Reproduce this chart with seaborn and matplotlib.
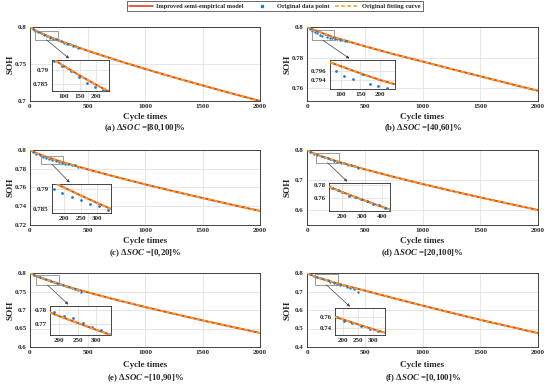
import matplotlib
matplotlib.use("Agg")
import matplotlib.pyplot as plt
import pandas as pd
import seaborn as sns
from matplotlib.lines import Line2D
from matplotlib.patches import Rectangle
from matplotlib.ticker import FuncFormatter

# ---------------- data ----------------
CYCLES = [0, 50, 100, 150, 200, 250, 300, 350, 400, 450, 500, 750, 1000, 1250, 1500, 1750, 2000]

model_a = [0.8000, 0.7952, 0.7915, 0.7881, 0.7849, 0.7819, 0.7790, 0.7761, 0.7734, 0.7707, 0.7680,
           0.7553, 0.7434, 0.7320, 0.7211, 0.7104, 0.7000]
model_b = [0.8000, 0.7985, 0.7970, 0.7955, 0.7941, 0.7929, 0.7918, 0.7907, 0.7896, 0.7885, 0.7874,
           0.7822, 0.7774, 0.7725, 0.7677, 0.7629, 0.7582]
model_c = [0.8000, 0.7970, 0.7946, 0.7924, 0.7904, 0.7884, 0.7865, 0.7847, 0.7829, 0.7812, 0.7794,
           0.7712, 0.7634, 0.7560, 0.7488, 0.7418, 0.7350]
model_d = [0.8000, 0.7902, 0.7828, 0.7760, 0.7697, 0.7636, 0.7577, 0.7520, 0.7465, 0.7411, 0.7357,
           0.7104, 0.6866, 0.6639, 0.6420, 0.6208, 0.6000]
model_e = [0.8000, 0.7921, 0.7861, 0.7806, 0.7755, 0.7706, 0.7658, 0.7612, 0.7567, 0.7523, 0.7480,
           0.7275, 0.7082, 0.6898, 0.6720, 0.6549, 0.6380]
model_f = [0.800, 0.786, 0.774, 0.764, 0.755, 0.746, 0.737, 0.729, 0.721, 0.713, 0.705,
           0.664, 0.624, 0.585, 0.547, 0.511, 0.475]

# original fitting curves coincide with the improved model at the reading precision
fit_a = list(model_a)
fit_b = list(model_b)
fit_c = list(model_c)
fit_d = list(model_d)
fit_e = list(model_e)
fit_f = list(model_f)

n_a = [0, 22, 47, 72, 96, 122, 147, 172, 197, 222, 247, 272, 297, 322, 347, 372, 397, 420]
pts_a = [0.8000, 0.7978, 0.7950, 0.7932, 0.7914, 0.7897, 0.7877, 0.7855, 0.7840, 0.7832, 0.7818,
         0.7808, 0.7790, 0.7774, 0.7765, 0.7746, 0.7738, 0.7720]
n_b = [0, 22, 44, 66, 87, 109, 132, 153, 174, 195, 218, 240, 262, 284, 306, 328, 350]
pts_b = [0.8000, 0.7988, 0.7975, 0.7966, 0.7959, 0.7950, 0.7942, 0.7953, 0.7932, 0.7928, 0.7925,
         0.7924, 0.7921, 0.7918, 0.7916, 0.7911, 0.7905]
n_c = [0, 28, 56, 84, 112, 140, 168, 195, 223, 251, 279, 306, 334, 362, 390, 418]
pts_c = [0.8000, 0.7978, 0.7962, 0.7946, 0.7930, 0.7913, 0.7899, 0.7889, 0.7880, 0.7871, 0.7862,
         0.7856, 0.7847, 0.7845, 0.7838, 0.7818]
n_d = [0, 30, 60, 90, 120, 150, 180, 200, 232, 262, 293, 323, 355, 385, 415, 440]
pts_d = [0.8000, 0.7935, 0.7880, 0.7840, 0.7800, 0.7755, 0.7725, 0.7690, 0.7640, 0.7612, 0.7582,
         0.7560, 0.7510, 0.7488, 0.7452, 0.7415]
n_e = [0, 35, 60, 87, 112, 137, 162, 186, 213, 237, 264, 289, 313, 340, 365, 390, 415, 440]
pts_e = [0.8000, 0.7945, 0.7910, 0.7880, 0.7852, 0.7825, 0.7800, 0.7780, 0.7753, 0.7742, 0.7707,
         0.7680, 0.7658, 0.7630, 0.7598, 0.7560, 0.7535, 0.7490]
n_f = [0, 30, 60, 90, 117, 145, 178, 203, 230, 259, 289, 315, 345, 375, 405, 440]
pts_f = [0.8000, 0.7925, 0.7855, 0.7785, 0.7726, 0.7660, 0.7605, 0.7530, 0.7486, 0.7423, 0.7370,
         0.7332, 0.7270, 0.7215, 0.7160, 0.6985]

panel_letters = ["a", "b", "c", "d", "e", "f"]
soc_ranges = ["[80,100]", "[40,60]", "[0,20]", "[20,100]", "[10,90]", "[0,100]"]
x_ticks = [0, 500, 1000, 1500, 2000]
y_ticks = [[0.7, 0.75, 0.8], [0.76, 0.78, 0.8], [0.72, 0.74, 0.76, 0.78, 0.8],
           [0.6, 0.7, 0.8], [0.6, 0.65, 0.7, 0.75, 0.8], [0.4, 0.5, 0.6, 0.7, 0.8]]
y_lims = [(0.7, 0.8), (0.7515, 0.8), (0.72, 0.8), (0.55, 0.8), (0.6, 0.8), (0.4, 0.8)]
inset_xlims = [(65, 240), (73, 238), (163, 343), (134, 438), (176, 339), (172, 339)]
inset_ylims = [(0.7827, 0.7935), (0.7922, 0.7983), (0.7839, 0.7913),
               (0.740, 0.7838), (0.7622, 0.7825), (0.7265, 0.7765)]
inset_xticks = [[100, 150, 200], [100, 150, 200], [200, 250, 300],
                [200, 300, 400], [200, 250, 300], [200, 250, 300]]
inset_yticks = [[0.785, 0.79], [0.794, 0.796], [0.785, 0.79],
                [0.76, 0.78], [0.77, 0.78], [0.74, 0.76]]
legend_labels = ["Improved semi-empirical model", "Original data point", "Original fitting curve"]

models = [model_a, model_b, model_c, model_d, model_e, model_f]
fits = [fit_a, fit_b, fit_c, fit_d, fit_e, fit_f]
ns = [n_a, n_b, n_c, n_d, n_e, n_f]
pts = [pts_a, pts_b, pts_c, pts_d, pts_e, pts_f]

# ---------------- layout / style ----------------
W, H = 550, 384
MAIN_BOX = [(30, 27, 260, 101), (307, 27, 538, 101),
            (30, 150, 260, 225), (307, 150, 538, 225),
            (30, 273, 260, 347), (307, 273, 538, 347)]
INSET_BOX = [(52, 60, 109, 91), (330, 60, 395, 89),
             (52, 184, 111, 213), (329, 183, 390, 211),
             (50, 306, 111, 335), (335, 308, 385, 335)]
# zoom-indicator rectangles drawn in the main axes (x0, x1, y0, y1), as placed in the reference
ZOOM_RECT = [(43, 243, 0.7827, 0.7947), (41, 236, 0.7912, 0.7978),
             (93, 290, 0.7847, 0.7936), (81, 274, 0.7577, 0.791),
             (52, 255, 0.7673, 0.7933), (67, 268, 0.736, 0.795)]
XLABEL_Y = [117, 117, 241, 241, 365, 365]
TITLE_Y = [128, 128, 253, 253, 378, 378]
YLABEL_X = [10.5, 287.5, 10.5, 287.5, 10.5, 287.5]

RED = "#E2461C"
ORANGE = "#F5A41E"
BLUE = "#1F7AC9"
DASH = (0, (2.2, 1.5))
EDGE = "#262626"

sns.set_theme(style="white")
plt.rcParams["font.family"] = ["Liberation Serif", "DejaVu Serif"]
plt.rcParams["font.weight"] = "bold"
plt.rcParams["mathtext.fontset"] = "custom"
plt.rcParams["mathtext.rm"] = "Liberation Serif:bold"
plt.rcParams["mathtext.it"] = "Liberation Serif:italic:bold"
plt.rcParams["mathtext.bf"] = "Liberation Serif:bold"

fig = plt.figure(figsize=(5.5, 3.84), dpi=100)


def fr(l, t, r, b):
    return [l / W, 1 - b / H, (r - l) / W, (b - t) / H]


fmt = FuncFormatter(lambda v, _: f"{v:g}")


def draw(a, i, ms):
    dfm = pd.DataFrame({"Cycle": CYCLES, "SOH": models[i]})
    dff = pd.DataFrame({"Cycle": CYCLES, "SOH": fits[i]})
    dfp = pd.DataFrame({"Cycle": ns[i], "SOH": pts[i]})
    sns.lineplot(data=dfm, x="Cycle", y="SOH", ax=a, color=RED, lw=1.4, zorder=3)
    sns.scatterplot(data=dfp, x="Cycle", y="SOH", ax=a, color=BLUE, s=ms, linewidth=0, zorder=4)
    sns.lineplot(data=dff, x="Cycle", y="SOH", ax=a, color=ORANGE, lw=1.2, linestyle=DASH, zorder=5)
    a.set_xlabel("")
    a.set_ylabel("")


def style(a, fs):
    a.grid(True, color="#dcdcdc", lw=0.5)
    a.tick_params(direction="in", length=2, width=0.5, labelsize=fs, pad=2.5, colors=EDGE)
    a.yaxis.set_major_formatter(fmt)
    for s in a.spines.values():
        s.set_color(EDGE)
        s.set_linewidth(0.6)


for i in range(6):
    ax = fig.add_axes(fr(*MAIN_BOX[i]))
    draw(ax, i, 3)
    ax.set_xlim(0, 2000)
    ax.set_ylim(*y_lims[i])
    ax.set_xticks(x_ticks)
    ax.set_yticks(y_ticks[i])
    style(ax, 5.0)

    l, t, r, b = MAIN_BOX[i]
    cx = (l + r) / 2
    fig.text(cx / W, 1 - XLABEL_Y[i] / H, "Cycle times", ha="center", va="center", fontsize=6.5)
    fig.text(cx / W, 1 - TITLE_Y[i] / H,
             f"({panel_letters[i]}) $\\mathit{{\\Delta SOC}}$ ={soc_ranges[i]}%",
             ha="center", va="center", fontsize=6.3)
    fig.text(YLABEL_X[i] / W, 1 - ((t + b) / 2) / H, "SOH", rotation=90,
             ha="center", va="center", fontsize=6.6)

    # zoom window in the main axes
    rx0, rx1, ry0, ry1 = ZOOM_RECT[i]
    ax.add_patch(Rectangle((rx0, ry0), rx1 - rx0, ry1 - ry0, fill=False, ec="#8a8a8a", lw=0.6, zorder=6))

    x0, x1 = inset_xlims[i]
    y0, y1 = inset_ylims[i]
    ins = fig.add_axes(fr(*INSET_BOX[i]))
    draw(ins, i, 4)
    ins.set_facecolor("white")
    ins.set_xlim(x0, x1)
    ins.set_ylim(y0, y1)
    ins.set_xticks(inset_xticks[i])
    ins.set_yticks(inset_yticks[i])
    style(ins, 5.0)

    ax.annotate("", xy=(0.3, 1.05), xycoords=ins.transAxes,
                xytext=(rx0 + 0.5 * (rx1 - rx0), ry0), textcoords="data",
                arrowprops=dict(arrowstyle="-|>", color="#404040", lw=0.5,
                                mutation_scale=4, shrinkA=0, shrinkB=0),
                zorder=7)

handles = [Line2D([], [], color=RED, lw=1.2),
           Line2D([], [], ls="none", marker="o", ms=1.6, color=BLUE),
           Line2D([], [], color=ORANGE, lw=1.2, ls=DASH)]
leg = fig.legend(handles, legend_labels, loc="upper center", bbox_to_anchor=(0.5, 1 - 1.5 / H),
                 ncol=3, frameon=True, fancybox=False, edgecolor=EDGE, fontsize=4.6,
                 handlelength=3.7, borderpad=0.3, columnspacing=1.0, handletextpad=0.5,
                 borderaxespad=0)
leg.get_frame().set_linewidth(0.6)

fig.savefig("out.png", dpi=100)
